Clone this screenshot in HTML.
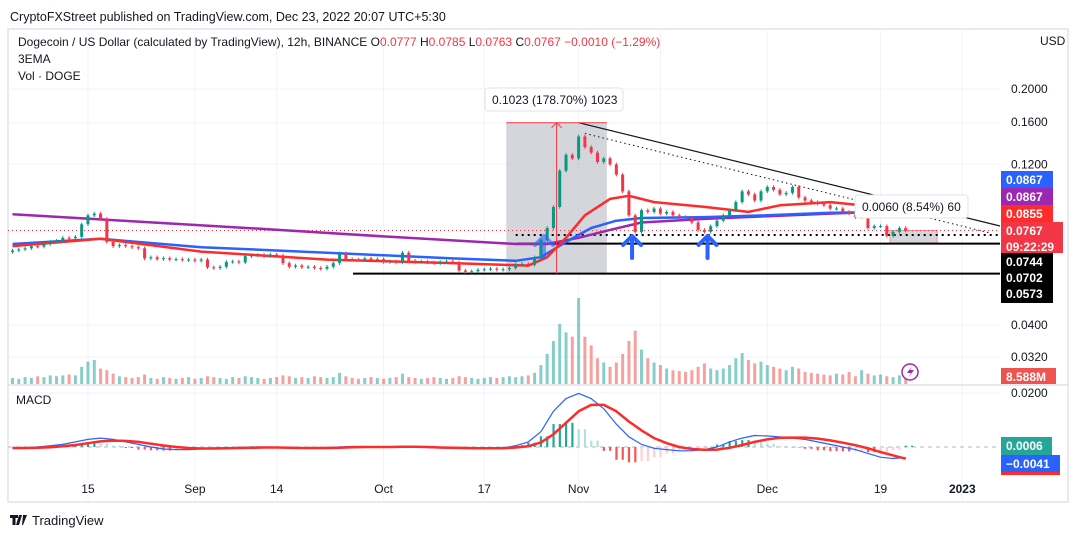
<!DOCTYPE html>
<html><head><meta charset="utf-8">
<style>
body{margin:0;background:#fff;width:1079px;height:538px;overflow:hidden;font-family:"Liberation Sans",sans-serif;}
svg text{font-family:"Liberation Sans",sans-serif;}
</style></head>
<body>
<svg id="chart" width="1079" height="538" viewBox="0 0 1079 538" xmlns="http://www.w3.org/2000/svg">
<rect x="0" y="0" width="1079" height="538" fill="#fff"/>
<text x="10" y="21" font-size="12.5" fill="#131722">CryptoFXStreet published on TradingView.com, Dec 23, 2022 20:07 UTC+5:30</text>
<rect x="8" y="29" width="1060" height="473" fill="none" stroke="#e0e3eb" stroke-width="1.5"/>
<g id="grid"></g>
<g id="volume"></g>
<g id="macd"></g>
<g id="overlays-back"></g>
<g id="ema"></g>
<g id="candles"></g>
<g id="overlays-front"></g>
<line x1="8" y1="385" x2="1068" y2="385" stroke="#d1d4dc" stroke-width="1"/>
<text x="18" y="46" font-size="12" fill="#131722">Dogecoin / US Dollar (calculated by TradingView), 12h, BINANCE <tspan>O</tspan><tspan fill="#f23645">0.0777</tspan> <tspan>H</tspan><tspan fill="#f23645">0.0785</tspan> <tspan>L</tspan><tspan fill="#f23645">0.0763</tspan> <tspan>C</tspan><tspan fill="#f23645">0.0767  −0.0010 (−1.29%)</tspan></text>
<text x="18" y="63" font-size="12" fill="#131722">3EMA</text>
<text x="18" y="80" font-size="12" fill="#131722">Vol · DOGE</text>
<text x="1040" y="45" font-size="12" fill="#131722">USD</text>
<text x="16" y="404" font-size="12" fill="#131722">MACD</text>
<g id="axis"></g>
<g>
<path d="M10 515 h8 v3 h-2.5 v7 h-3 v-7 h-2.5z M19 515 h3 l-3 10 h-3z M23 515 h4 l-4 10 h-1z" fill="#131722"/>
<text x="32" y="525" font-size="13" fill="#131722">TradingView</text>
</g>
</svg>
<script>
// ---- data ----
const closes=[0.067,0.0675,0.068,0.069,0.0688,0.070,0.071,0.0715,0.073,0.0728,0.0735,0.080,0.085,0.086,0.083,0.071,0.069,0.0695,0.069,0.0685,0.068,0.0635,0.064,0.0632,0.0636,0.063,0.0632,0.0628,0.063,0.0625,0.063,0.0598,0.0595,0.060,0.062,0.0622,0.0618,0.0645,0.0648,0.065,0.0645,0.0652,0.0648,0.0615,0.060,0.0605,0.0598,0.060,0.0595,0.0592,0.060,0.0615,0.0657,0.0632,0.063,0.0628,0.0635,0.063,0.0632,0.062,0.0622,0.0618,0.066,0.0625,0.062,0.0622,0.0618,0.0615,0.062,0.0622,0.0618,0.0585,0.058,0.0582,0.0588,0.059,0.0592,0.0588,0.059,0.0595,0.061,0.0612,0.0608,0.064,0.072,0.078,0.090,0.115,0.128,0.125,0.145,0.135,0.130,0.122,0.125,0.120,0.112,0.100,0.085,0.076,0.088,0.087,0.089,0.086,0.087,0.085,0.084,0.0835,0.081,0.077,0.076,0.079,0.082,0.085,0.088,0.093,0.100,0.098,0.094,0.100,0.103,0.101,0.098,0.099,0.103,0.096,0.094,0.093,0.092,0.091,0.089,0.089,0.087,0.086,0.084,0.086,0.078,0.079,0.079,0.074,0.076,0.078,0.0767];
const volumes=[7,6,8,7,9,8,10,9,10,11,10,20,26,28,18,16,12,9,8,7,8,11,7,6,8,7,6,7,8,6,7,9,8,7,6,8,7,9,8,7,6,7,8,10,9,7,8,7,9,8,7,8,13,9,7,6,7,8,7,6,7,8,12,8,7,6,7,8,7,6,7,9,8,7,6,7,8,7,8,9,8,9,10,13,22,35,50,70,60,55,100,55,45,30,25,20,25,35,50,62,40,30,25,22,18,16,15,14,16,20,24,18,16,18,22,30,36,28,24,26,22,20,18,16,20,18,14,13,12,11,10,12,11,14,9,16,12,10,11,9,8,10,9];
const emaRedIdx=[0,14,30,50,70,82,85,88,91,95,98,102,110,117,122,130,135,142];
const emaRedVal=[0.069,0.0725,0.0665,0.063,0.0615,0.0605,0.064,0.073,0.085,0.095,0.097,0.093,0.090,0.087,0.091,0.093,0.091,0.0855];
const emaBlueIdx=[0,14,30,50,70,80,84,88,92,96,100,110,120,130,135,142];
const emaBlueVal=[0.070,0.0725,0.0685,0.066,0.0635,0.0625,0.064,0.071,0.078,0.082,0.0835,0.084,0.085,0.0865,0.0867,0.0867];
const emaPurpleIdx=[0,20,40,60,80,85,90,95,100,110,120,130,135,142];
const emaPurpleVal=[0.0856,0.0815,0.0775,0.0735,0.0700,0.0700,0.0730,0.0770,0.0810,0.0830,0.0845,0.0860,0.0867,0.0867];
const macdLine=[-0.5,-0.3,0,0.5,1,2,3,3.5,3,2,1,0,-0.8,-1,-1,-0.8,-0.6,-0.4,-0.2,0,0,-0.2,-0.4,-0.5,-0.5,-0.3,0,0.2,0.2,0,0,0.2,0,-0.2,-0.4,-0.5,-0.6,-0.6,-0.5,-0.4,0.5,2,6,14,19,21,19,15,9,4,1,-0.5,-1,-1.5,-1.5,-1,0,2,3.5,4.5,4.3,4,3.5,3,2,1,0,-1,-2.5,-4,-4.5,-4.1];
const signalLine=[-0.4,-0.4,-0.3,-0.1,0.3,0.8,1.5,2.2,2.5,2.4,2,1.3,0.6,0,-0.4,-0.6,-0.6,-0.5,-0.4,-0.3,-0.2,-0.2,-0.3,-0.4,-0.4,-0.4,-0.3,-0.1,0,0,0,0.1,0.1,0,-0.2,-0.3,-0.4,-0.5,-0.5,-0.5,-0.2,0.3,1.8,5,9.5,14,16.5,16.5,14,10,6.5,3.5,1.5,0,-0.8,-1.1,-1,-0.3,0.8,2,3,3.6,3.7,3.7,3.3,2.6,1.7,0.7,-0.5,-2,-3.3,-4.6];
const priceTicks=[0.2,0.16,0.12];
const priceTickLabels=["0.2000","0.1600","0.1200"];
const timeLabels=["15","Sep","14","Oct","17","Nov","14","Dec","19","2023"];
const timeIdx=[12,29,42,59,75,90,103,120,138,151];

// ---- scales ----
const X0=12.5, DX=6.29;
const xAt=i=>X0+i*DX;
const yP=p=>89+(Math.log10(0.2)-Math.log10(p))*340;
const yV=v=>384-v*0.86;
const yM=m=>447-m*2.55;
const NS="http://www.w3.org/2000/svg";
function mk(tag,attrs,parent){const e=document.createElementNS(NS,tag);for(const k in attrs)e.setAttribute(k,attrs[k]);parent.appendChild(e);return e;}
const G=id=>document.getElementById(id);

// grid
timeIdx.forEach((ti,k)=>{const l=mk('line',{x1:xAt(ti),x2:xAt(ti),y1:29,y2:502,stroke:'#f0f3fa'},G('grid'));

});
[89,123,164,325,357,393].forEach(y=>{const l=mk('line',{x1:8,x2:1000,y1:y,y2:y,stroke:'#f0f3fa'},G('grid'));

});

// overlays back: measurement boxes
const ob=G('overlays-back');
let r=mk('rect',{x:xAt(78.5),y:yP(0.1592),width:xAt(94.5)-xAt(78.5),height:yP(0.0573)-yP(0.1592),fill:'#b2b5be',opacity:0.55},ob);


r=mk('rect',{x:xAt(139.5),y:yP(0.0767),width:xAt(147)-xAt(139.5),height:yP(0.0705)-yP(0.0767),fill:'#b2b5be',opacity:0.55,stroke:'#f23645'},ob);


[[0.0744,'2,4',2,'support-dotted-line',xAt(80)],[0.0702,'',2,'support-line-0702',xAt(80)],[0.0573,'',2,'support-line-0573',353]].forEach(([p,d,w,n,x1])=>{
 const l=mk('line',{x1:x1,x2:1000,y1:yP(p),y2:yP(p),stroke:'#000','stroke-width':w,'stroke-dasharray':d},ob);
 
 });
let rl=mk('line',{x1:8,x2:1000,y1:yP(0.0767),y2:yP(0.0767),stroke:'#f23645','stroke-dasharray':'1,3'},ob);



// volume
const vg=G('volume');
closes.forEach((c,i)=>{const o=i?closes[i-1]:c;const up=c>=o;
 const b=mk('rect',{x:xAt(i)-1.5,y:yV(volumes[i]),width:3,height:384-yV(volumes[i]),fill:up?'rgba(38,166,154,0.55)':'rgba(239,83,80,0.55)'},vg);
 
 });

// macd
const mg=G('macd');
let z=mk('line',{x1:8,x2:1000,y1:447,y2:447,stroke:'#b2b5be','stroke-dasharray':'4,4'},mg);


macdLine.forEach((m,k)=>{const h=m-signalLine[k];const i=k*2;const prev=k?macdLine[k-1]-signalLine[k-1]:h;
 const col=h>=0?(h>=prev?'#26a69a':'#b2dfdb'):(h<prev?'#ff5252':'#ffcdd2');
 const y1=yM(Math.max(h,0)),y2=yM(Math.min(h,0));
 [0,1].forEach(s=>{const b=mk('rect',{x:xAt(i+s)-1,y:y1,width:2.2,height:Math.max(y2-y1,0.5),fill:col},mg);
 
 });});
function poly(vals,idxf,yf,col,w,parent,name){const d=vals.map((v,k)=>(k?'L':'M')+xAt(idxf(k)).toFixed(1)+' '+yf(v).toFixed(1)).join(' ');
 const p=mk('path',{d:d,fill:'none',stroke:col,'stroke-width':w,'stroke-linejoin':'round'},parent);
 
 }
poly(macdLine,k=>k*2,yM,'#2962ff',1.2,mg,'macd-line');
poly(signalLine,k=>k*2,yM,'#ff2a2a',2.5,mg,'signal-line');

// EMAs
const eg=G('ema');
poly(emaPurpleVal,k=>emaPurpleIdx[k],yP,'#9c27b0',2.5,eg,'ema-200-line');
poly(emaBlueVal,k=>emaBlueIdx[k],yP,'#2962ff',2.5,eg,'ema-100-line');
poly(emaRedVal,k=>emaRedIdx[k],yP,'#ff2a2a',2.5,eg,'ema-50-line');

// candles
const cg=G('candles');
closes.forEach((c,i)=>{const o=i?closes[i-1]:c*0.99;const up=c>=o;const col=up?'#089981':'#f23645';
 const hi=Math.max(o,c)*1.012, lo=Math.min(o,c)*0.988;
 const w=mk('line',{x1:xAt(i),x2:xAt(i),y1:yP(hi),y2:yP(lo),stroke:col},cg);
 
 
 const t=yP(Math.max(o,c)),b=yP(Math.min(o,c));
 const r=mk('rect',{x:xAt(i)-1.5,y:t,width:3,height:Math.max(b-t,1),fill:col},cg);
 
 });

// overlays front
const of=G('overlays-front');
let tl=mk('line',{x1:xAt(90),y1:yP(0.1592),x2:1000,y2:226,stroke:'#131722','stroke-width':1.2},of);


tl=mk('line',{x1:xAt(91),y1:yP(0.148),x2:990,y2:233,stroke:'#131722','stroke-dasharray':'1.5,3'},of);


let vl=mk('path',{d:`M${xAt(86.5)} ${yP(0.0573)} V${yP(0.1592)} M${xAt(86.5)-5} ${yP(0.1592)+5} L${xAt(86.5)} ${yP(0.1592)} L${xAt(86.5)+5} ${yP(0.1592)+5} M${xAt(78.5)} ${yP(0.1592)} H${xAt(94.5)}`,stroke:'#f23645',fill:'none'},of);


[84.5,98.5,110.5].forEach(i=>{const x=xAt(i);
 const a=mk('path',{d:`M${x} 236 L${x-9} 245 M${x} 236 L${x+9} 245 M${x} 237 V258`,stroke:'#2962ff','stroke-width':4,fill:'none','stroke-linecap':'round','stroke-linejoin':'round',opacity:i<90?0.6:1},of);
 
 });
function label(x,y,w,txt,name){const g=mk('g',{},of);
 
 
 mk('rect',{x:x,y:y,width:w,height:23,rx:3,fill:'#fff',stroke:'#e0e3eb'},g);
 const t=mk('text',{x:x+7,y:y+16,'font-size':12,fill:'#131722'},g);t.textContent=txt;}
label(485,88,138,'0.1023 (178.70%) 1023','measure-label-large');
label(855,195,113,'0.0060 (8.54%) 60','measure-label-small');
const lc=mk('g',{},of);


mk('circle',{cx:910,cy:372,r:8,fill:'#fff',stroke:'#9c27b0','stroke-width':1.5},lc);
mk('path',{d:'M912 366 L907 373 H911 L908 378 L914 370 H910Z',fill:'#9c27b0'},lc);

// axis
const ag=G('axis');
function txt(x,y,s,t,fill,name,bold){const e=mk('text',{x:x,y:y,'font-size':s,fill:fill},ag);if(bold)e.setAttribute('font-weight','bold');e.textContent=t;
 
 return e;}
priceTicks.forEach((p,k)=>txt(1011,yP(p)+4,12,priceTickLabels[k],'#131722','price-tick'));
txt(1011,329,12,'0.0400','#131722','price-tick');
txt(1011,361,12,'0.0320','#131722','price-tick');
txt(1011,397,12,'0.0200','#131722','macd-tick');
timeLabels.forEach((t,k)=>{const e=txt(xAt(timeIdx[k]),493,12,t,'#131722','time-tick',t==='2023');e.setAttribute('text-anchor','middle');});
function tag(y,h,w,col,lines,name){const g=mk('g',{},ag);
 
 
 mk('rect',{x:1001,y:y,width:w,height:h,fill:col},g);
 lines.forEach((l,k)=>{const t=mk('text',{x:1006,y:y+13+k*16,'font-size':12,fill:'#fff','font-weight':'bold'},g);t.textContent=l;});}
tag(171,17,52,'#2962ff',['0.0867'],'ema-100-tag');
tag(188,17,52,'#9c27b0',['0.0867'],'ema-200-tag');
tag(205,17,52,'#ff2a2a',['0.0855'],'ema-50-tag');
tag(222,31,62,'#f23645',['0.0767','09:22:29'],'last-price-tag');
tag(253,50,52,'#000',['0.0744','0.0702','0.0573'],'level-tags');
tag(368,16,55,'#ef5350',['8.588M'],'volume-tag');
tag(437,18,51,'#26a69a',['0.0006'],'histogram-tag');
tag(455,17,59,'#2962ff',['−0.0041'],'macd-tag');
tag(472,3,59,'#ff2a2a',[],'signal-tag');
</script>
</body></html>
